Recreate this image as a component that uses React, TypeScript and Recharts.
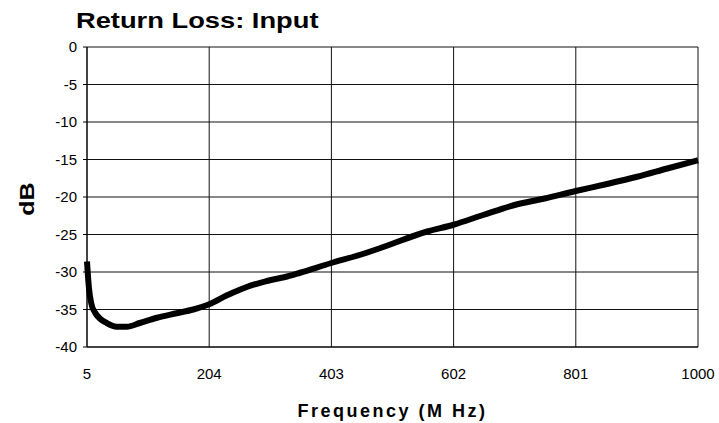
import { LineChart, Line, XAxis, YAxis, CartesianGrid } from 'recharts'

const freqMHz = [
  5, 8, 12, 18, 26, 37, 53, 70, 91, 119, 151, 178, 204, 233, 250, 265, 298, 331, 352, 403, 450,
  483, 559, 602, 650, 700, 750, 801, 850, 901, 950, 1000,
]
const returnLossDb = [
  -28.6, -32.0, -34.2, -35.4, -36.2, -36.8, -37.3, -37.3, -36.8, -36.1, -35.5, -35.0, -34.3,
  -33.1, -32.5, -32.0, -31.2, -30.6, -30.1, -28.8, -27.7, -26.8, -24.6, -23.7, -22.4, -21.1,
  -20.2, -19.2, -18.3, -17.3, -16.2, -15.1,
]
const xTicks = [5, 204, 403, 602, 801, 1000]
const yTicks = [0, -5, -10, -15, -20, -25, -30, -35, -40]

const data = freqMHz.map((f, i) => ({ f, db: returnLossDb[i] }))

const FONT = '"Liberation Sans", Arial, sans-serif'

export default function App() {
  return (
    <div style={{ position: 'absolute', left: 0, top: 0, width: 719, height: 423, background: '#fff', fontFamily: FONT }}>
      <LineChart width={719} height={423} data={data} margin={{ top: 47, right: 21, bottom: 0, left: 0 }}>
        <CartesianGrid stroke="#111" strokeWidth={1} horizontalValues={yTicks} verticalValues={xTicks} />
        <XAxis
          dataKey="f"
          type="number"
          domain={[5, 1000]}
          ticks={xTicks}
          height={76}
          tickLine={false}
          tickSize={0}
          tickMargin={21}
          stroke="#000"
          tick={{ fontSize: 15, fill: '#000', fontFamily: FONT }}
        />
        <YAxis
          type="number"
          domain={[-40, 0]}
          ticks={yTicks}
          width={87}
          tickSize={4}
          tickMargin={6}
          stroke="#000"
          tick={{ fontSize: 15, fill: '#000', fontFamily: FONT }}
        />
        <Line
          type="monotone"
          dataKey="db"
          stroke="#000"
          strokeWidth={6}
          dot={false}
          isAnimationActive={false}
        />
      </LineChart>
      {/* chart title, stretched wide like the original export */}
      <div style={{ position: 'absolute', left: 76, top: 10, fontSize: 22, fontWeight: 'bold', lineHeight: 1, whiteSpace: 'nowrap', transform: 'scaleX(1.24)', transformOrigin: 'left center' }}>
        Return Loss: Input
      </div>
      <div style={{ position: 'absolute', left: 87, width: 611, top: 402, fontSize: 18, fontWeight: 'bold', lineHeight: 1, textAlign: 'center', letterSpacing: 2.5, whiteSpace: 'nowrap' }}>
        Frequency (M Hz)
      </div>
      <div style={{ position: 'absolute', left: -3, top: 189, width: 60, height: 20, lineHeight: '20px', fontSize: 20, fontWeight: 'bold', textAlign: 'center', transform: 'rotate(-90deg) scaleX(1.25)' }}>
        dB
      </div>
    </div>
  )
}
